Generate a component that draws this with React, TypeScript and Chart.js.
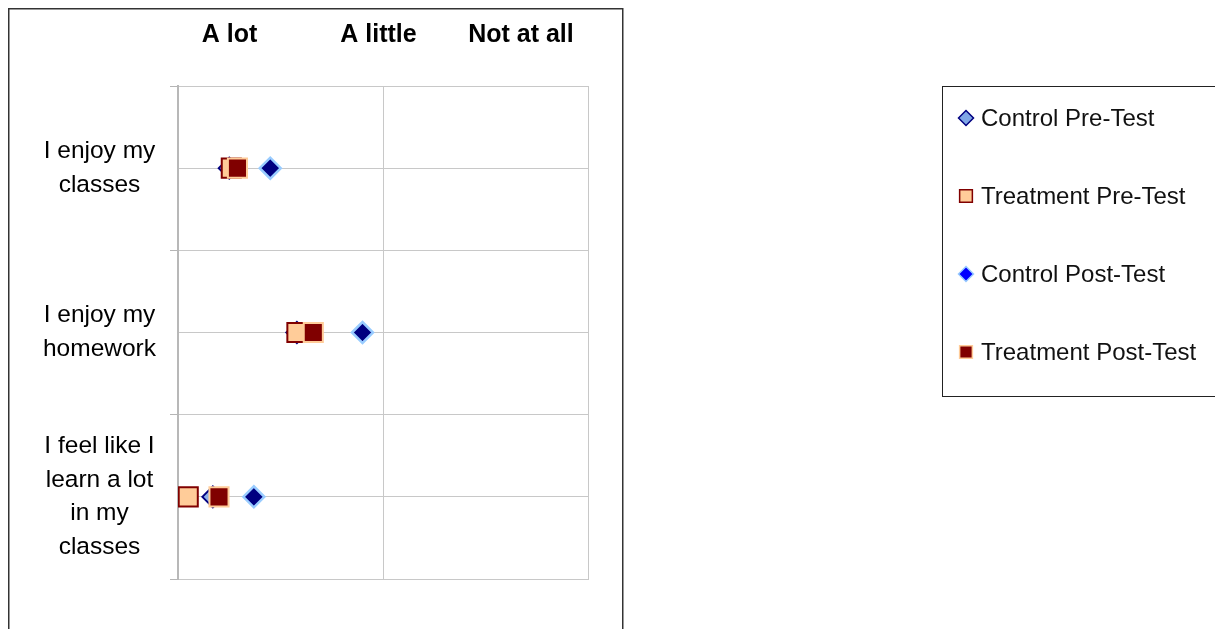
import React, { useEffect, useRef } from "react";
import { Chart, registerables } from "chart.js";
import { drawPoint } from "chart.js/helpers";

Chart.register(...registerables);

// ---- data ----
const categoryLines: string[][] = [
  ["I enjoy my", "classes"],
  ["I enjoy my", "homework"],
  ["I feel like I", "learn a lot", "in my", "classes"],
];
const categoryPositions = [1, 3, 5];

const headerLabels = ["A lot", "A little", "Not at all"];
const headerPositions = [1.251, 1.978, 2.673];

const seriesNames = ["Control Pre-Test", "Treatment Pre-Test", "Control Post-Test", "Treatment Post-Test"];
const controlPre = [1.25, 1.58, 1.17];
const treatmentPre = [1.26, 1.58, 1.05];
const controlPost = [1.45, 1.9, 1.37];
const treatmentPost = [1.29, 1.66, 1.2];

const FONT = "'Liberation Sans', Arial, sans-serif";

const toPoints = (vals: number[]) => vals.map((v, i) => ({ x: v, y: categoryPositions[i] }));

const legendRadius = [7.5, 9, 7.5, 9];

const sideLegend = {
  id: "sideLegend",
  afterDraw(chart: any) {
    const ctx = chart.ctx as CanvasRenderingContext2D;
    ctx.save();
    // outer frame around the plot
    ctx.strokeStyle = "#333333";
    ctx.lineWidth = 1.5;
    ctx.strokeRect(0.75, 0.75, 614, chart.height + 40);
    // legend frame
    ctx.lineWidth = 1;
    ctx.strokeStyle = "#222222";
    ctx.strokeRect(934.5, 78.5, 400, 310);
    ctx.font = `24px ${FONT}`;
    ctx.textBaseline = "middle";
    ctx.textAlign = "left";
    chart.data.datasets.forEach((ds: any, i: number) => {
      const y = 110 + i * 78;
      ctx.fillStyle = ds.legendFill || ds.backgroundColor;
      ctx.strokeStyle = ds.borderColor;
      ctx.lineWidth = 1.5;
      drawPoint(ctx, { pointStyle: ds.pointStyle, radius: legendRadius[i], borderWidth: 1.5, rotation: 0 } as any, 958, y);
      ctx.fillStyle = "#111111";
      ctx.fillText(ds.label, 973, y + 1);
    });
    ctx.restore();
  },
};

export default function App() {
  const canvasRef = useRef<HTMLCanvasElement | null>(null);

  useEffect(() => {
    document.body.style.overflow = "hidden";
    const canvas = canvasRef.current;
    if (!canvas) return;
    const gridColor = "#c8c8c8";
    const chart = new Chart(canvas, {
      type: "scatter",
      data: {
        datasets: [
          {
            label: seriesNames[0],
            data: toPoints(controlPre),
            pointStyle: "rectRot",
            pointRadius: 10.5,
            pointHoverRadius: 10.5,
            backgroundColor: "#8DB0E8",
            legendFill: "#7FA6E6",
            borderColor: "#000080",
            borderWidth: 2,
            order: 4,
          } as any,
          {
            label: seriesNames[1],
            data: toPoints(treatmentPre),
            pointStyle: "rect",
            pointRadius: 13.5,
            pointHoverRadius: 13.5,
            backgroundColor: "#FFCC99",
            borderColor: "#800000",
            borderWidth: 2,
            order: 3,
          },
          {
            label: seriesNames[2],
            data: toPoints(controlPost),
            pointStyle: "rectRot",
            pointRadius: 10.5,
            pointHoverRadius: 10.5,
            backgroundColor: "#000080",
            legendFill: "#0000FF",
            borderColor: "#99CCFF",
            borderWidth: 2.5,
            order: 2,
          } as any,
          {
            label: seriesNames[3],
            data: toPoints(treatmentPost),
            pointStyle: "rect",
            pointRadius: 13.5,
            pointHoverRadius: 13.5,
            backgroundColor: "#800000",
            borderColor: "#FFCC99",
            borderWidth: 2,
            order: 1,
          },
        ],
      },
      options: {
        animation: false,
        responsive: true,
        maintainAspectRatio: false,
        layout: { padding: { left: 0, right: 635, top: 0, bottom: 0 } },
        plugins: {
          legend: { display: false },
          tooltip: { enabled: false },
        },
        font: { family: FONT },
        scales: {
          x: {
            type: "linear",
            position: "bottom",
            min: 1,
            max: 3,
            ticks: { display: false, stepSize: 1 },
            grid: { color: gridColor, drawTicks: false },
            border: { color: gridColor, width: 1 },
            afterFit: (s: any) => {
              s.height = 50;
            },
          },
          xTop: {
            type: "linear",
            position: "top",
            min: 1,
            max: 3,
            grid: { display: false, drawTicks: false },
            border: { display: false },
            afterBuildTicks: (s: any) => {
              s.ticks = headerPositions.map((v) => ({ value: v }));
            },
            ticks: {
              autoSkip: false,
              maxRotation: 0,
              padding: 36,
              color: "#000000",
              font: { family: FONT, size: 25, weight: "bold" },
              callback: (_v: any, i: number) => headerLabels[i],
            },
            afterFit: (s: any) => {
              s.height = 78;
            },
          },
          y: {
            type: "linear",
            position: "left",
            reverse: true,
            min: 0,
            max: 6,
            afterFit: (s: any) => {
              s.width = 170;
            },
            grid: {
              color: gridColor,
              tickLength: 8,
              tickColor: (c: any) => (c.tick && c.tick.value % 2 === 0 ? "#b5b5b5" : "rgba(0,0,0,0)"),
            },
            border: { color: "#b8b8b8", width: 2 },
            ticks: {
              stepSize: 1,
              autoSkip: false,
              crossAlign: "center",
              padding: 14,
              color: "#000000",
              font: { family: FONT, size: 24.5, lineHeight: 1.38 },
              callback: (v: any) => {
                const idx = categoryPositions.indexOf(Number(v));
                return idx >= 0 ? categoryLines[idx] : "";
              },
            },
          },
        },
      } as any,
      plugins: [sideLegend],
    });
    return () => chart.destroy();
  }, []);

  return (
    <div style={{ position: "relative", width: "1215px", height: "621px" }}>
      <canvas ref={canvasRef} style={{ display: "block" }} />
    </div>
  );
}
